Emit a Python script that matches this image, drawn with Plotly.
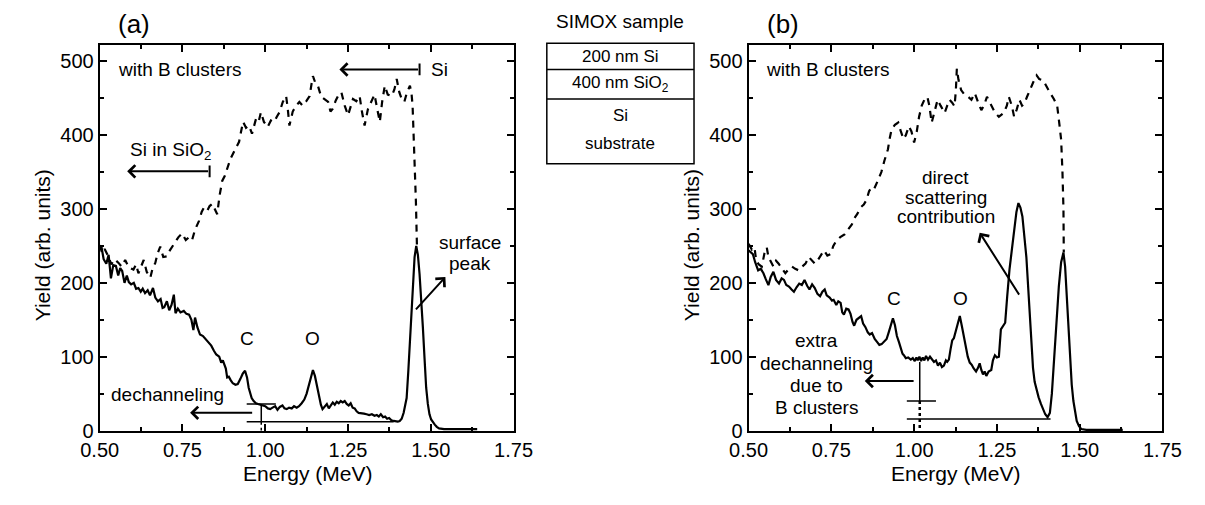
import plotly.graph_objects as go

# ---------------- data: panel (a) ----------------
a_aligned_x = [0.500,0.505,0.512,0.520,0.527,0.534,0.541,0.549,0.556,0.562,0.568,0.575,0.582,0.588,0.595,0.603,0.610,0.617,0.624,0.630,
               0.637,0.645,0.652,0.661,0.668,0.676,0.684,0.690,0.695,0.703,0.710,0.717,0.724,0.729,0.736,0.744,0.754,0.762,0.770,0.777,
               0.783,0.788,0.795,0.803,0.812,0.820,0.828,0.837,0.845,0.852,0.861,0.867,0.872,0.881,0.885,0.890,0.896,0.902,0.910,0.917,
               0.925,0.932,0.939,0.945,0.950,0.955,0.959,0.965,0.972,0.978,0.985,0.992,1.000,1.008,1.015,1.022,1.030,1.037,1.044,1.052,
               1.058,1.065,1.072,1.080,1.087,1.095,1.102,1.110,1.118,1.125,1.132,1.138,1.144,1.150,1.156,1.162,1.168,1.173,1.180,1.186,
               1.192,1.198,1.204,1.210,1.216,1.222,1.228,1.234,1.240,1.246,1.252,1.258,1.264,1.270,1.276,1.282,1.290,1.298,1.306,1.314,
               1.322,1.330,1.337,1.343,1.349,1.356,1.362,1.368,1.374,1.381,1.388,1.394,1.400,1.406,1.412,1.418,1.423,1.427,1.432,1.437,
               1.442,1.446,1.451,1.456,1.461,1.466,1.471,1.476,1.481,1.486,1.491,1.496,1.501,1.505,1.512,1.518,1.525,1.540,1.560,1.580,
               1.600,1.620,1.640]
a_aligned_y = [245,250,232,226,238,206,224,223,210,220,216,200,210,201,198,200,192,193,188,192,
               186,190,183,193,180,175,178,166,167,175,163,170,184,159,165,160,162,158,157,150,
               136,153,140,130,128,124,120,115,108,103,100,92,95,84,72,73,68,64,62,63,
               70,77,81,72,58,48,44,40,37,36,35,34,33,30,29,31,33,28,32,34,
               30,29,31,30,33,31,33,37,42,50,62,74,82,74,60,45,35,29,33,36,
               30,35,38,35,39,37,40,38,40,36,34,37,31,30,26,24,24,23,22,21,
               22,20,21,19,22,18,19,16,17,14,13,12,12,13,16,24,34,44,80,120,
               159,200,235,250,238,212,182,140,98,58,36,22,15,12,8,5,3,2,2,1,
               2,1,2]

a_random_x = [0.500,0.508,0.515,0.526,0.535,0.545,0.557,0.566,0.577,0.588,0.602,0.610,0.617,0.625,0.633,0.642,0.653,0.660,0.668,0.675,
              0.683,0.692,0.703,0.712,0.720,0.729,0.738,0.749,0.760,0.770,0.779,0.788,0.800,0.808,0.815,0.825,0.832,0.840,0.848,0.855,
              0.862,0.870,0.878,0.886,0.895,0.906,0.914,0.921,0.927,0.933,0.942,0.951,0.960,0.972,0.980,0.987,0.996,1.007,1.017,1.027,
              1.035,1.043,1.053,1.063,1.068,1.073,1.083,1.093,1.103,1.113,1.124,1.134,1.140,1.144,1.152,1.159,1.169,1.179,1.190,1.197,
              1.204,1.213,1.222,1.230,1.240,1.250,1.258,1.265,1.275,1.285,1.292,1.300,1.310,1.320,1.330,1.338,1.346,1.353,1.361,1.370,
              1.382,1.390,1.397,1.405,1.412,1.420,1.428,1.437,1.442,1.445,1.448,1.452,1.455,1.458]
a_random_y = [251,240,246,236,225,232,227,222,231,221,218,225,213,222,231,215,207,220,227,240,
              249,235,236,244,250,256,262,267,258,262,258,272,284,296,302,298,304,307,300,293,
              318,338,345,356,368,378,385,391,405,418,410,413,402,422,418,431,418,411,420,418,
              425,431,445,453,436,413,432,440,445,440,446,453,470,480,470,467,452,449,445,432,
              436,447,455,458,440,427,440,449,446,453,432,413,435,444,455,436,418,445,467,455,
              453,462,476,458,449,445,458,467,455,440,400,364,310,252]

# ---------------- data: panel (b) ----------------
b_aligned_x = [0.500,0.506,0.513,0.520,0.529,0.537,0.545,0.552,0.560,0.567,0.575,0.583,0.592,0.600,0.607,0.614,0.622,0.630,0.637,0.645,
               0.653,0.661,0.669,0.677,0.684,0.692,0.700,0.708,0.716,0.723,0.730,0.736,0.745,0.752,0.757,0.765,0.771,0.778,0.783,0.788,
               0.795,0.802,0.808,0.814,0.819,0.826,0.833,0.840,0.846,0.853,0.860,0.866,0.873,0.881,0.888,0.895,0.902,0.909,0.917,0.924,
               0.930,0.936,0.942,0.948,0.954,0.960,0.965,0.969,0.975,0.982,0.990,0.996,1.002,1.007,1.011,1.016,1.021,1.026,1.031,1.036,
               1.042,1.048,1.054,1.060,1.066,1.072,1.078,1.084,1.090,1.096,1.100,1.105,1.110,1.115,1.120,1.126,1.132,1.138,1.144,1.150,
               1.156,1.162,1.168,1.174,1.180,1.187,1.193,1.198,1.203,1.208,1.213,1.218,1.225,1.233,1.238,1.244,1.250,1.256,1.262,1.268,
               1.275,1.281,1.288,1.296,1.303,1.309,1.315,1.321,1.327,1.333,1.339,1.345,1.350,1.354,1.359,1.364,1.370,1.376,1.383,1.390,
               1.396,1.403,1.410,1.416,1.422,1.429,1.437,1.444,1.451,1.456,1.461,1.466,1.471,1.476,1.481,1.486,1.491,1.498,1.505,1.520,
               1.540,1.560,1.580,1.600,1.630]
b_aligned_y = [244,242,239,228,217,219,213,205,197,208,215,204,199,206,204,197,195,191,188,194,
               199,197,204,196,191,198,193,185,182,188,191,183,180,176,177,170,175,173,160,157,
               165,164,158,147,142,150,153,155,145,140,133,130,132,124,120,116,117,120,124,134,
               145,152,143,128,120,110,104,102,98,99,96,98,94,99,95,100,94,99,95,101,
               96,100,96,93,95,88,92,86,88,95,93,96,110,122,125,136,148,155,142,128,
               113,100,92,89,84,80,85,91,82,76,80,74,80,82,95,102,99,100,137,141,
               146,181,218,248,275,296,308,302,290,266,235,190,150,115,85,66,55,45,36,28,
               22,18,24,50,93,140,195,228,241,222,182,135,95,62,40,25,13,6,2,1,
               1,0,1,1,1]

b_random_x = [0.500,0.510,0.518,0.523,0.531,0.540,0.548,0.555,0.560,0.567,0.575,0.583,0.591,0.600,0.611,0.620,0.631,0.641,0.651,0.662,
              0.672,0.682,0.692,0.700,0.708,0.718,0.728,0.738,0.748,0.756,0.765,0.777,0.791,0.800,0.812,0.820,0.828,0.838,0.848,0.856,
              0.864,0.872,0.880,0.890,0.901,0.910,0.921,0.926,0.932,0.942,0.952,0.960,0.968,0.975,0.984,0.992,1.000,1.008,1.015,1.023,
              1.031,1.040,1.046,1.053,1.062,1.071,1.080,1.092,1.100,1.107,1.115,1.122,1.126,1.129,1.134,1.142,1.152,1.163,1.173,1.183,
              1.193,1.203,1.211,1.220,1.228,1.235,1.245,1.256,1.265,1.271,1.280,1.286,1.295,1.302,1.310,1.318,1.326,1.333,1.341,1.349,
              1.360,1.370,1.378,1.390,1.400,1.411,1.422,1.432,1.440,1.444,1.448,1.451,1.452]
b_random_y = [253,245,248,230,225,222,240,248,235,228,222,230,226,220,213,218,222,219,217,222,
              226,235,230,226,230,238,244,237,239,250,257,262,266,272,279,288,293,302,306,312,
              324,330,328,338,350,365,381,395,408,414,417,405,395,400,412,405,390,405,425,440,
              448,452,440,417,432,448,440,430,440,448,444,439,460,490,475,461,455,452,448,457,
              445,434,440,452,445,439,430,425,428,430,440,452,440,425,435,448,440,443,452,461,
              472,481,476,474,465,457,449,440,410,394,350,300,241]

x_ticks = [0.50, 0.75, 1.00, 1.25, 1.50, 1.75]
y_ticks = [0, 100, 200, 300, 400, 500]

FONT = "Liberation Sans, Arial, sans-serif"
W, H = 1205, 505
ANN = 19

fig = go.Figure()
fig.add_trace(go.Scatter(x=a_random_x, y=a_random_y, mode="lines",
                         line=dict(color="black", width=2.2, dash="7px,6px"), xaxis="x", yaxis="y"))
fig.add_trace(go.Scatter(x=a_aligned_x, y=a_aligned_y, mode="lines",
                         line=dict(color="black", width=2.2), xaxis="x", yaxis="y"))
fig.add_trace(go.Scatter(x=b_random_x, y=b_random_y, mode="lines",
                         line=dict(color="black", width=2.2, dash="7px,6px"), xaxis="x2", yaxis="y2"))
fig.add_trace(go.Scatter(x=b_aligned_x, y=b_aligned_y, mode="lines",
                         line=dict(color="black", width=2.2), xaxis="x2", yaxis="y2"))

def px_x(p):
    return p / W

def px_y(p):
    return 1 - p / H

ydom = [px_y(440), px_y(46)]
axis_common = dict(showline=True, linewidth=2, linecolor="black", mirror="allticks",
                   ticks="inside", ticklen=7, tickwidth=1.5, tickcolor="black",
                   showgrid=False, zeroline=False,
                   tickfont=dict(size=20, color="black", family=FONT))
xax = dict(axis_common, range=[0.5, 1.75], tickvals=x_ticks, tickformat=".2f",
           minor=dict(ticks="inside", ticklen=4, tickwidth=1.5, tickcolor="black", dtick=0.125, tick0=0.5))
yax = dict(axis_common, range=[-1, 522], tickvals=y_ticks,
           minor=dict(ticks="inside", ticklen=4, tickwidth=1.5, tickcolor="black", dtick=50, tick0=0))

fig.update_layout(
    width=W, height=H, margin=dict(l=0, r=0, t=0, b=0),
    paper_bgcolor="white", plot_bgcolor="white", showlegend=False,
    font=dict(family=FONT, color="black", size=ANN),
    xaxis=dict(xax, domain=[px_x(83.3), px_x(510.7)], anchor="y"),
    yaxis=dict(yax, domain=ydom, anchor="x"),
    xaxis2=dict(xax, domain=[px_x(753.3), px_x(1180.7)], anchor="y2"),
    yaxis2=dict(yax, domain=ydom, anchor="x2"),
)

ann = []
shapes = []

def text(x, y, s, xr, yr, size=ANN, xanchor="center"):
    ann.append(dict(x=x, y=y, xref=xr, yref=yr, text=s, showarrow=False,
                    xanchor=xanchor, yanchor="middle", font=dict(size=size, family=FONT, color="black")))

def arrow(hx, hy, tx, ty, xr, yr):
    ann.append(dict(x=hx, y=hy, ax=tx, ay=ty, xref=xr, yref=yr, axref=xr, ayref=yr, text="",
                    showarrow=True, arrowhead=4, arrowsize=1.2, arrowwidth=2, arrowcolor="black", standoff=0))

def seg(x0, y0, x1, y1, xr, yr, width=1.5, dash="solid"):
    shapes.append(dict(type="line", x0=x0, y0=y0, x1=x1, y1=y1, xref=xr, yref=yr,
                       line=dict(color="black", width=width, dash=dash)))

# panel (a)
text(0.548, 489, "with B clusters", "x", "y", xanchor="left")
text(1.527, 489, "Si", "x", "y")
arrow(1.224, 489, 1.466, 489, "x", "y")
seg(1.466, 481, 1.466, 497, "x", "y", 2)
text(0.715, 378, "Si in SiO<sub>2</sub>", "x", "y")
arrow(0.583, 351, 0.832, 351, "x", "y")
seg(0.832, 343, 0.832, 359, "x", "y", 2)
text(0.944, 125, "C", "x", "y")
text(1.144, 125, "O", "x", "y")
text(1.617, 255, "surface", "x", "y")
text(1.617, 226, "peak", "x", "y")
arrow(1.544, 208, 1.451, 162, "x", "y")
text(0.705, 49, "dechanneling", "x", "y")
arrow(0.773, 24, 0.965, 24, "x", "y")
seg(0.988, 36, 0.988, 12, "x", "y", 1.5)
seg(0.944, 36, 1.032, 36, "x", "y", 1.5)
seg(0.944, 12, 1.388, 12, "x", "y", 1.5)
seg(0.988, 12, 0.988, 0, "x", "y", 1.5, "dot")

# panel (b)
text(0.548, 489, "with B clusters", "x2", "y2", xanchor="left")
text(1.095, 343, "direct", "x2", "y2")
text(1.095, 316, "scattering", "x2", "y2")
text(1.095, 290, "contribution", "x2", "y2")
arrow(1.198, 268, 1.32, 182, "x2", "y2")
text(0.939, 179, "C", "x2", "y2")
text(1.140, 179, "O", "x2", "y2")
text(0.705, 122, "extra", "x2", "y2")
text(0.705, 91, "dechanneling", "x2", "y2")
text(0.705, 61, "due to", "x2", "y2")
text(0.705, 31, "B clusters", "x2", "y2")
arrow(0.851, 67, 1.003, 67, "x2", "y2")
seg(1.017, 93, 1.017, 40, "x2", "y2", 1.5)
seg(0.978, 40, 1.066, 40, "x2", "y2", 1.5)
seg(0.978, 15.5, 1.412, 15.5, "x2", "y2", 1.5)
seg(1.017, 40, 1.017, 0, "x2", "y2", 2.5, "dot")

# axis titles and panel labels (paper coords)
for off, lab in [(0, "(a)"), (670, "(b)")]:
    ann.append(dict(x=px_x(119 + off), y=px_y(24), xref="paper", yref="paper", text=lab, showarrow=False,
                    xanchor="center", yanchor="middle", font=dict(size=26, family=FONT, color="black")))
    ann.append(dict(x=px_x(24 + off), y=px_y(250), xref="paper", yref="paper", text="Yield (arb. units)",
                    showarrow=False, textangle=-90, xanchor="center", yanchor="middle",
                    font=dict(size=21, family=FONT, color="black")))
    ann.append(dict(x=px_x(298 + off), y=px_y(483), xref="paper", yref="paper", text="Energy (MeV)",
                    showarrow=False, xanchor="center", yanchor="middle",
                    font=dict(size=21, family=FONT, color="black")))

# SIMOX sample box
box_l, box_r = 545, 697
box_rows = [44, 71, 101, 167]
shapes.append(dict(type="rect", xref="paper", yref="paper", x0=px_x(box_l), x1=px_x(box_r),
                   y0=px_y(box_rows[-1]), y1=px_y(box_rows[0]), line=dict(color="black", width=1.5)))
for r in box_rows[1:-1]:
    seg(px_x(box_l), px_y(r), px_x(box_r), px_y(r), "paper", "paper", 1.5)
for s, yy, sz in [("SIMOX sample", 22, 19), ("200 nm Si", 58, 17), ("400 nm SiO<sub>2</sub>", 86, 17),
                  ("Si", 118, 17), ("substrate", 146, 17)]:
    ann.append(dict(x=px_x(621), y=px_y(yy), xref="paper", yref="paper", text=s, showarrow=False,
                    xanchor="center", yanchor="middle", font=dict(size=sz, family=FONT, color="black")))

fig.update_layout(annotations=ann, shapes=shapes)
fig.write_html("out.html")
